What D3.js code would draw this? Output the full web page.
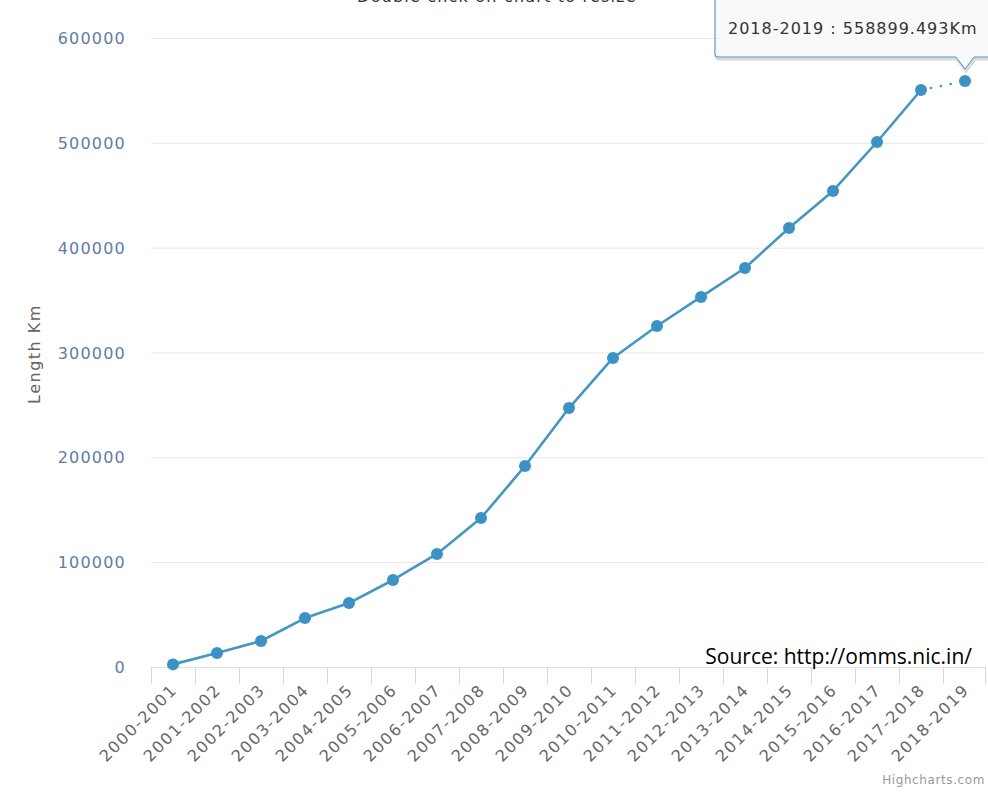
<!DOCTYPE html>
<html>
<head>
<meta charset="utf-8">
<script src="https://cdn.jsdelivr.net/npm/d3@7"></script>
<style>
  body { margin: 0; background: #fff; overflow: hidden; }
  svg { display: block; }
</style>
</head>
<body>
<div id="chart"></div>
<script>
var years = ["2000-2001", "2001-2002", "2002-2003", "2003-2004", "2004-2005", "2005-2006",
  "2006-2007", "2007-2008", "2008-2009", "2009-2010", "2010-2011", "2011-2012",
  "2012-2013", "2013-2014", "2014-2015", "2015-2016", "2016-2017", "2017-2018", "2018-2019"];
var lengthKm = [2500, 13400, 24800, 46700, 61000, 83000, 107800, 142100, 191700, 247000,
  294800, 325300, 353000, 380600, 418800, 454100, 500800, 550400, 558899.493];
var yTicks = [0, 100000, 200000, 300000, 400000, 500000, 600000];

var width = 988, height = 793;
var plotLeft = 151, plotRight = 987, plotTop = 38, plotBottom = 667;

var svg = d3.select('#chart').append('svg')
  .attr('width', width)
  .attr('height', height);

var x = d3.scaleBand().domain(years).range([plotLeft, plotRight]).padding(0);
var y = d3.scaleLinear().domain([0, 600000]).range([plotBottom, plotTop]);

// title, mostly cut off at the top
svg.append('text')
  .attr('x', 497).attr('y', 2)
  .attr('text-anchor', 'middle')
  .style('font-family', 'DejaVu Sans').style('font-size', '16px')
  .style('letter-spacing', '1.2px')
  .attr('fill', '#333')
  .text('Double click on chart to resize');

// grid
svg.append('g').selectAll('line')
  .data(yTicks.slice(1))
  .enter().append('line')
  .attr('x1', plotLeft).attr('x2', 985)
  .attr('y1', function(d) { return y(d) + 0.5; })
  .attr('y2', function(d) { return y(d) + 0.5; })
  .attr('stroke', '#e6e6e6').attr('stroke-width', 1);

// y labels
svg.append('g').selectAll('text')
  .data(yTicks)
  .enter().append('text')
  .attr('x', 126)
  .attr('y', function(d) { return y(d) + 6; })
  .attr('text-anchor', 'end')
  .style('font-family', 'DejaVu Sans').style('font-size', '16px')
  .style('letter-spacing', '1.2px')
  .attr('fill', '#5f7ca6')
  .text(function(d) { return d; });

svg.append('text')
  .attr('transform', 'translate(40,354) rotate(-90)')
  .attr('text-anchor', 'middle')
  .style('font-family', 'DejaVu Sans').style('font-size', '16px')
  .style('letter-spacing', '1.5px')
  .attr('fill', '#666')
  .text('Length Km');

// x axis
var tickPos = years.map(function(d) { return x(d); }).concat([985]);
svg.append('line')
  .attr('x1', plotLeft).attr('x2', 985)
  .attr('y1', plotBottom + 0.5).attr('y2', plotBottom + 0.5)
  .attr('stroke', '#e0e0e0');
svg.append('g').selectAll('line')
  .data(tickPos)
  .enter().append('line')
  .attr('x1', function(d) { return d + 0.5; })
  .attr('x2', function(d) { return d + 0.5; })
  .attr('y1', plotBottom).attr('y2', plotBottom + 17)
  .attr('stroke', '#d8d8d8');

svg.append('g').selectAll('text')
  .data(years)
  .enter().append('text')
  .attr('transform', function(d) {
    return 'translate(' + (x(d) + x.bandwidth() / 2 + 5) + ',' + (plotBottom + 24) + ') rotate(-45)';
  })
  .attr('text-anchor', 'end')
  .style('font-family', 'DejaVu Sans').style('font-size', '16px')
  .style('letter-spacing', '1.6px')
  .attr('fill', '#666')
  .text(function(d) { return d; });

// series
var pts = years.map(function(d, i) { return [x(d) + x.bandwidth() / 2, y(lengthKm[i])]; });
var line = d3.line();
svg.append('path')
  .attr('d', line(pts.slice(0, pts.length - 1)))
  .attr('fill', 'none')
  .attr('stroke', '#4596c2').attr('stroke-width', 2.6)
  .attr('stroke-linejoin', 'round');
svg.append('path')
  .attr('d', line(pts.slice(pts.length - 2)))
  .attr('fill', 'none')
  .attr('stroke', '#4596c2').attr('stroke-width', 2.6)
  .attr('stroke-linecap', 'round')
  .attr('stroke-dasharray', '0.1,10');

svg.append('g').selectAll('circle')
  .data(pts)
  .enter().append('circle')
  .attr('cx', function(d) { return d[0]; })
  .attr('cy', function(d) { return d[1]; })
  .attr('r', 6)
  .attr('fill', '#3b92c4');

// source + credits
svg.append('text')
  .attr('x', 972).attr('y', 664)
  .attr('text-anchor', 'end')
  .style('font-family', 'Open Sans').style('font-size', '21px')
  .attr('fill', '#000')
  .text('Source: http://omms.nic.in/');

svg.append('text')
  .attr('x', 985).attr('y', 784)
  .attr('text-anchor', 'end')
  .style('font-family', 'DejaVu Sans').style('font-size', '12px')
  .style('letter-spacing', '0.6px')
  .attr('fill', '#999')
  .text('Highcharts.com');

// tooltip
var last = pts[pts.length - 1];
var bx = 715, by = -10, bw = 300, bh = 67, tipY = last[1] - 12;
var tipPath = 'M' + bx + ',' + by +
  ' L' + (bx + bw) + ',' + by +
  ' L' + (bx + bw) + ',' + (by + bh) +
  ' L' + (last[0] + 9) + ',' + (by + bh) +
  ' L' + last[0] + ',' + tipY +
  ' L' + (last[0] - 9) + ',' + (by + bh) +
  ' L' + (bx + 3) + ',' + (by + bh) +
  ' Q' + bx + ',' + (by + bh) + ' ' + bx + ',' + (by + bh - 3) + ' Z';
svg.append('path')
  .attr('d', tipPath)
  .attr('transform', 'translate(1,2)')
  .attr('fill', 'none')
  .attr('stroke', 'rgba(0,0,0,0.15)').attr('stroke-width', 3);
svg.append('path')
  .attr('d', tipPath)
  .attr('fill', 'rgba(248,249,250,0.92)')
  .attr('stroke', '#4a93c3').attr('stroke-width', 1);
svg.append('text')
  .attr('x', 728).attr('y', 34)
  .style('font-family', 'DejaVu Sans').style('font-size', '16px')
  .style('letter-spacing', '1px')
  .attr('fill', '#333')
  .text(years[years.length - 1] + ' : ' + lengthKm[lengthKm.length - 1] + 'Km');
</script>
</body>
</html>
